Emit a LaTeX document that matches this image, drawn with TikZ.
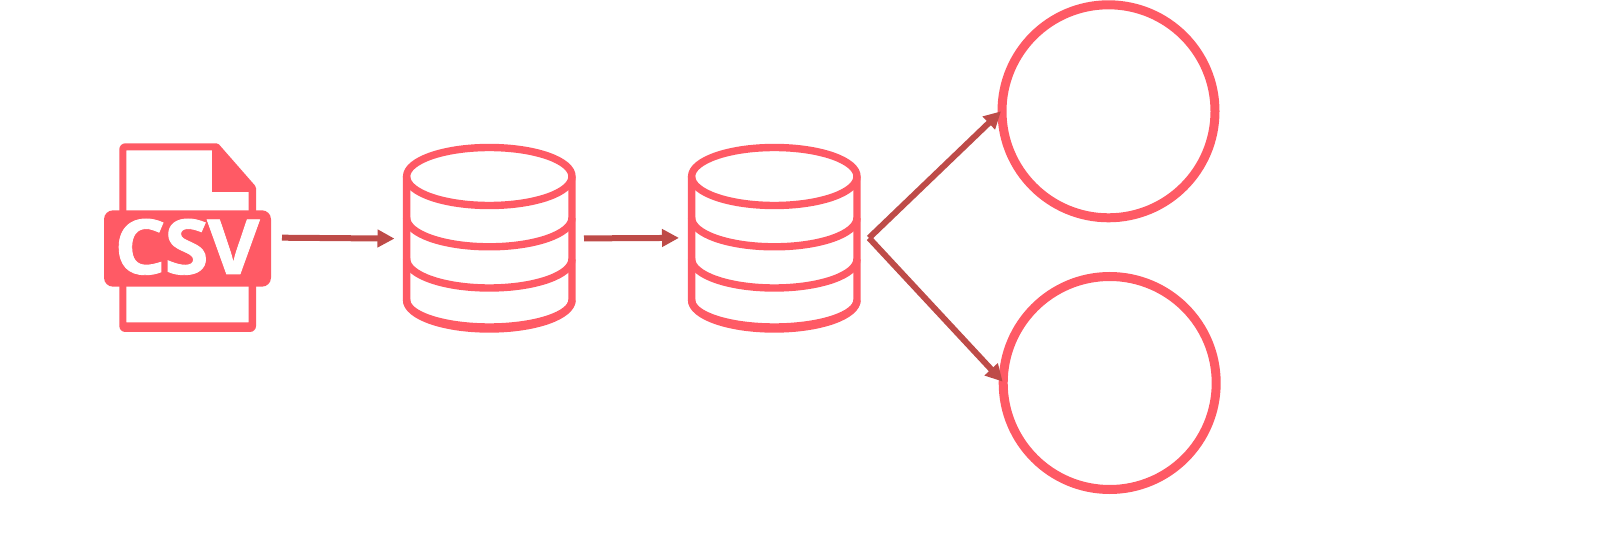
\documentclass[tikz,border=0pt]{standalone}
\usepackage{fontspec}
\setmainfont{Open Sans}
\usetikzlibrary{arrows.meta}
\definecolor{coral}{HTML}{FF5A65}
\definecolor{brick}{HTML}{BE4B48}
\newfontfamily\csvfont[FakeStretch=1.06,FakeBold=1.2]{Open Sans Bold}
\tikzset{
  x=1pt,y=-1pt,
  lineart/.style={draw=coral,line width=7.4pt,line join=round},
  flow/.style={draw=brick,line width=6pt,-{Triangle[length=17pt,width=17pt]},shorten >=0pt},
  ring/.style={circle,draw=coral,line width=9pt,minimum size=213pt,inner sep=0pt},
  iconbox/.style={inner sep=0pt,minimum width=172pt,minimum height=190pt},
  pic label/.style={text=white,font=\fontsize{76}{76}\selectfont\csvfont,inner sep=0pt}
}
\newcommand{\dbicon}[1]{%
  \draw[lineart] (#1,176.5) ellipse [x radius=82.7,y radius=29];
  \draw[lineart] (#1-82.7,176.5) -- (#1-82.7,300) arc[start angle=180,end angle=360,x radius=82.7,y radius=-29] -- (#1+82.7,176.5);
  \draw[lineart] (#1-82.7,300) arc[start angle=180,end angle=360,x radius=82.7,y radius=-27];
  \draw[lineart] (#1-82.7,217.8) arc[start angle=180,end angle=360,x radius=82.7,y radius=-29];
  \draw[lineart] (#1-82.7,259) arc[start angle=180,end angle=360,x radius=82.7,y radius=-29];
}
\begin{document}
\begin{tikzpicture}
\useasboundingbox (0,0) rectangle (1623,553);
% CSV icon
\fill[coral,even odd rule]
  [rounded corners=6pt] (119.3,143.3) [rounded corners=1.5pt] -- (218,143.3) -- (256,186.7) -- (256,192) [rounded corners=6pt] -- (256,332) -- (119.3,332) -- cycle
  [sharp corners] (126.3,150.3) -- (212,150.3) -- (212,192) -- (248.7,192) -- (248.7,322.3) -- (126.3,322.3) -- cycle;
\fill[coral,rounded corners=9pt] (104,210.3) rectangle (271,286.7);
\node[pic label,anchor=base] (csv) at (187,274) {C\kern-1.5pt S\kern-1.5pt V};
\node[iconbox] (src) at (187.5,238) {};
% databases
\dbicon{489.3}
\node[iconbox] (dba) at (489.3,238) {};
\dbicon{774.3}
\node[iconbox] (dbb) at (774.3,238) {};
% stores
\node[ring] (top) at (1108.5,111.3) {};
\node[ring] (bot) at (1109.7,383) {};
% connectors
\coordinate (a1) at (282,237.7);
\coordinate (a2) at (394.5,238.6);
\coordinate (b1) at (584,238.4);
\coordinate (b2) at (679,237.9);
\coordinate (c0) at (869,238);
\coordinate (c1) at (1001,111.3);
\coordinate (c2) at (1002.7,381.7);
\draw[flow] (a1) -- (a2);
\draw[flow] (b1) -- (b2);
\draw[flow] (c0) -- (c1);
\draw[flow] (c0) -- (c2);
\end{tikzpicture}
\end{document}
